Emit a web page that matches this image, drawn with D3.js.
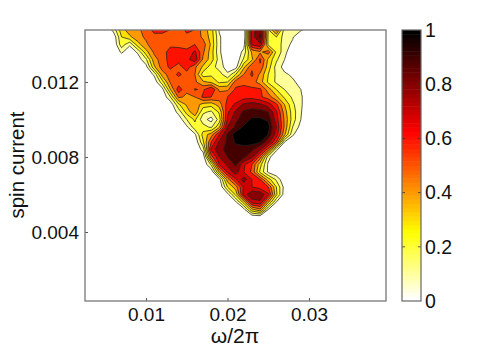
<!DOCTYPE html>
<html><head><meta charset="utf-8">
<script src="https://cdn.jsdelivr.net/npm/d3@7"></script>
<style>html,body{margin:0;padding:0;background:#fff}svg{display:block}text{font-family:"Liberation Sans",Arial,sans-serif;fill:#111}</style>
</head><body><svg id="c" width="491" height="350"></svg>
<script>
const omegaValues=[.005,.006,.007,.008,.009,.010,.011,.012,.013,.014,.015,.016,.017,.018,.019,.020,.021,.022,.023,.024,.025,.026,.027,.028,.029,.030,.031];
const currentValues=[.0148,.0144,.0140,.0136,.0132,.0128,.0124,.0120,.0116,.0112,.0108,.0104,.0100,.0096,.0092,.0088,.0084,.0080,.0076,.0072,.0068,.0064,.0060,.0056,.0052,.0048];
const intensity=[
[0,14,36,46,48,54,64,64,60,56,62,60,45,35,8,0,0,0,75,88,30,55,15,14,12,6,0],
[0,2,30,38,46,52,56,56,57,56,58,56,48,36,12,0,0,0,75,92,28,30,15,11,0,0,0],
[0,0,26,12,36,48,56,56,58,56,57,60,55,38,12,0,0,5,72,78,28,28,14,8,0,0,0],
[0,0,12,2,12,36,52,56,64,66,62,72,52,35,12,0,0,14,42,48,55,28,14,0,0,0,0],
[0,0,0,0,4,18,46,55,64,64,66,78,48,35,15,0,0,22,38,62,38,22,10,0,0,0,0],
[0,0,0,0,0,6,38,55,62,56,65,52,38,25,15,5,5,38,58,58,35,16,6,0,0,0,0],
[0,0,0,0,0,0,12,45,55,62,56,50,25,28,25,12,30,50,62,48,30,18,12,8,0,0,0],
[0,0,0,0,0,0,2,26,52,54,56,52,42,38,28,30,55,55,55,45,28,18,15,12,6,0,0],
[0,0,0,0,0,0,0,6,40,66,52,61,58,70,48,48,62,66,62,62,45,30,20,16,10,0,0],
[0,0,0,0,0,0,0,0,20,52,48,50,62,60,55,60,62,66,66,62,55,42,28,18,12,0,0],
[0,0,0,0,0,0,0,0,3,28,42,46,36,34,45,64,72,82,85,82,75,62,40,22,12,0,0],
[0,0,0,0,0,0,0,0,0,14,34,48,22,18,32,68,82,92,94,94,90,72,45,25,11,0,0],
[0,0,0,0,0,0,0,0,0,3,20,32,14,6,25,72,88,94,98,98,96,75,48,25,10,0,0],
[0,0,0,0,0,0,0,0,0,0,8,26,24,18,38,80,92,98,100,100,100,80,48,20,6,0,0],
[0,0,0,0,0,0,0,0,0,0,0,8,34,45,70,92,100,100,100,100,97,75,42,12,0,0,0],
[0,0,0,0,0,0,0,0,0,0,0,1,28,60,82,92,98,100,100,98,85,60,10,0,0,0,0],
[0,0,0,0,0,0,0,0,0,0,0,0,14,72,88,92,94,94,92,82,55,12,0,0,0,0,0],
[0,0,0,0,0,0,0,0,0,0,0,0,2,55,80,90,92,92,82,55,14,0,0,0,0,0,0],
[0,0,0,0,0,0,0,0,0,0,0,0,0,22,70,82,92,72,60,34,8,0,0,0,0,0,0],
[0,0,0,0,0,0,0,0,0,0,0,0,0,1,42,72,85,70,58,28,8,1,0,0,0,0,0],
[0,0,0,0,0,0,0,0,0,0,0,0,0,0,6,45,68,85,70,60,35,18,1,0,0,0,0],
[0,0,0,0,0,0,0,0,0,0,0,0,0,0,0,30,45,72,70,65,60,30,6,0,0,0,0],
[0,0,0,0,0,0,0,0,0,0,0,0,0,0,0,6,32,75,88,88,72,32,4,0,0,0,0],
[0,0,0,0,0,0,0,0,0,0,0,0,0,0,0,0,8,35,75,78,42,10,0,0,0,0,0],
[0,0,0,0,0,0,0,0,0,0,0,0,0,0,0,0,0,6,38,48,10,0,0,0,0,0,0],
[0,0,0,0,0,0,0,0,0,0,0,0,0,0,0,0,0,0,1,2,0,0,0,0,0,0,0]
];
const contourLevels=[.1,.2,.3,.4,.5,.6,.7,.8,.9,.97];
const xTicks=[.01,.02,.03];
const yTicks=[.004,.008,.012];
const barTicks=[0,.2,.4,.6,.8,1];

const plot={l:85,r:386,t:30,b:301};
const bar={l:402,r:421};
const x=d3.scaleLinear().domain([.01,.03]).range([146,309]);
const y=d3.scaleLinear().domain([.004,.012]).range([232,82]);
const hot=d3.scaleLinear().domain([0,.25,.625,1]).range(["#ffffff","#ffff00","#ff0000","#000000"]).clamp(true);
const svg=d3.select("#c");
const defs=svg.append("defs");
defs.append("clipPath").attr("id","pc").append("rect").attr("x",plot.l).attr("y",plot.t).attr("width",plot.r-plot.l).attr("height",plot.b-plot.t);

const nx=omegaValues.length, ny=currentValues.length;
const flat=intensity.flat().map(v=>v/100);
const contours=d3.contours().size([nx,ny]).smooth(true).thresholds(contourLevels)(flat);
const gx=d3.scaleLinear().domain([.5,nx-.5]).range([x(omegaValues[0]),x(omegaValues[nx-1])]);
const gy=d3.scaleLinear().domain([.5,ny-.5]).range([y(currentValues[0]),y(currentValues[ny-1])]);
const path=d3.geoPath(d3.geoTransform({point(a,b){this.stream.point(gx(a),gy(b));}}));
svg.append("g").attr("clip-path","url(#pc)").selectAll("path").data(contours).join("path")
 .attr("d",path).attr("fill",d=>d.value>=.97?"#000":hot(d.value)).attr("stroke","#222").attr("stroke-width",.75).attr("stroke-linejoin","round");

const ax="#555";
const xa=d3.axisBottom(x).tickValues(xTicks).tickFormat(d3.format(".2f")).tickSize(-3).tickPadding(7);
const ya=d3.axisLeft(y).tickValues(yTicks).tickFormat(d3.format(".3f")).tickSize(-3).tickPadding(6);
const gxA=svg.append("g").attr("transform",`translate(0,${plot.b})`).call(xa);
const gyA=svg.append("g").attr("transform",`translate(${plot.l},0)`).call(ya);
[gxA,gyA].forEach(g=>{g.select(".domain").remove();g.selectAll("line").attr("stroke",ax);g.selectAll("text").attr("font-size",19).attr("font-family","Liberation Sans").attr("fill","#111");});
svg.append("rect").attr("x",plot.l).attr("y",plot.t).attr("width",plot.r-plot.l).attr("height",plot.b-plot.t).attr("fill","none").attr("stroke","#777").attr("stroke-width",1.3);

// colourbar
const by=d3.scaleLinear().domain([0,1]).range([plot.b,plot.t]);
const steps=d3.range(64);
svg.append("g").selectAll("rect").data(steps).join("rect")
 .attr("x",bar.l).attr("width",bar.r-bar.l)
 .attr("y",d=>by((d+1)/64)).attr("height",d=>by(d/64)-by((d+1)/64)+.5)
 .attr("fill",d=>hot(d/63));
const ba=d3.axisRight(by).tickValues(barTicks).tickFormat(d=>d3.format("")(d)).tickSize(0).tickPadding(4);
const gb=svg.append("g").attr("transform",`translate(${bar.r},0)`).call(ba);
gb.select(".domain").remove();
gb.selectAll("text").attr("font-size",19.5).attr("font-family","Liberation Sans").attr("fill","#111");
svg.append("g").selectAll("path").data(barTicks.slice(1,-1)).join("path")
 .attr("d",d=>`M${bar.l},${by(d)}h3M${bar.r},${by(d)}h-3`).attr("stroke","#333").attr("stroke-width",.8);
svg.append("rect").attr("x",bar.l).attr("y",plot.t).attr("width",bar.r-bar.l).attr("height",plot.b-plot.t).attr("fill","none").attr("stroke","#666").attr("stroke-width",1.2);

svg.append("text").attr("x",235).attr("y",343).attr("text-anchor","middle").attr("font-size",21).text("ω/2π");
svg.append("text").attr("transform","translate(24,165) rotate(-90)").attr("text-anchor","middle").attr("font-size",20.5).text("spin current");
</script></body></html>
